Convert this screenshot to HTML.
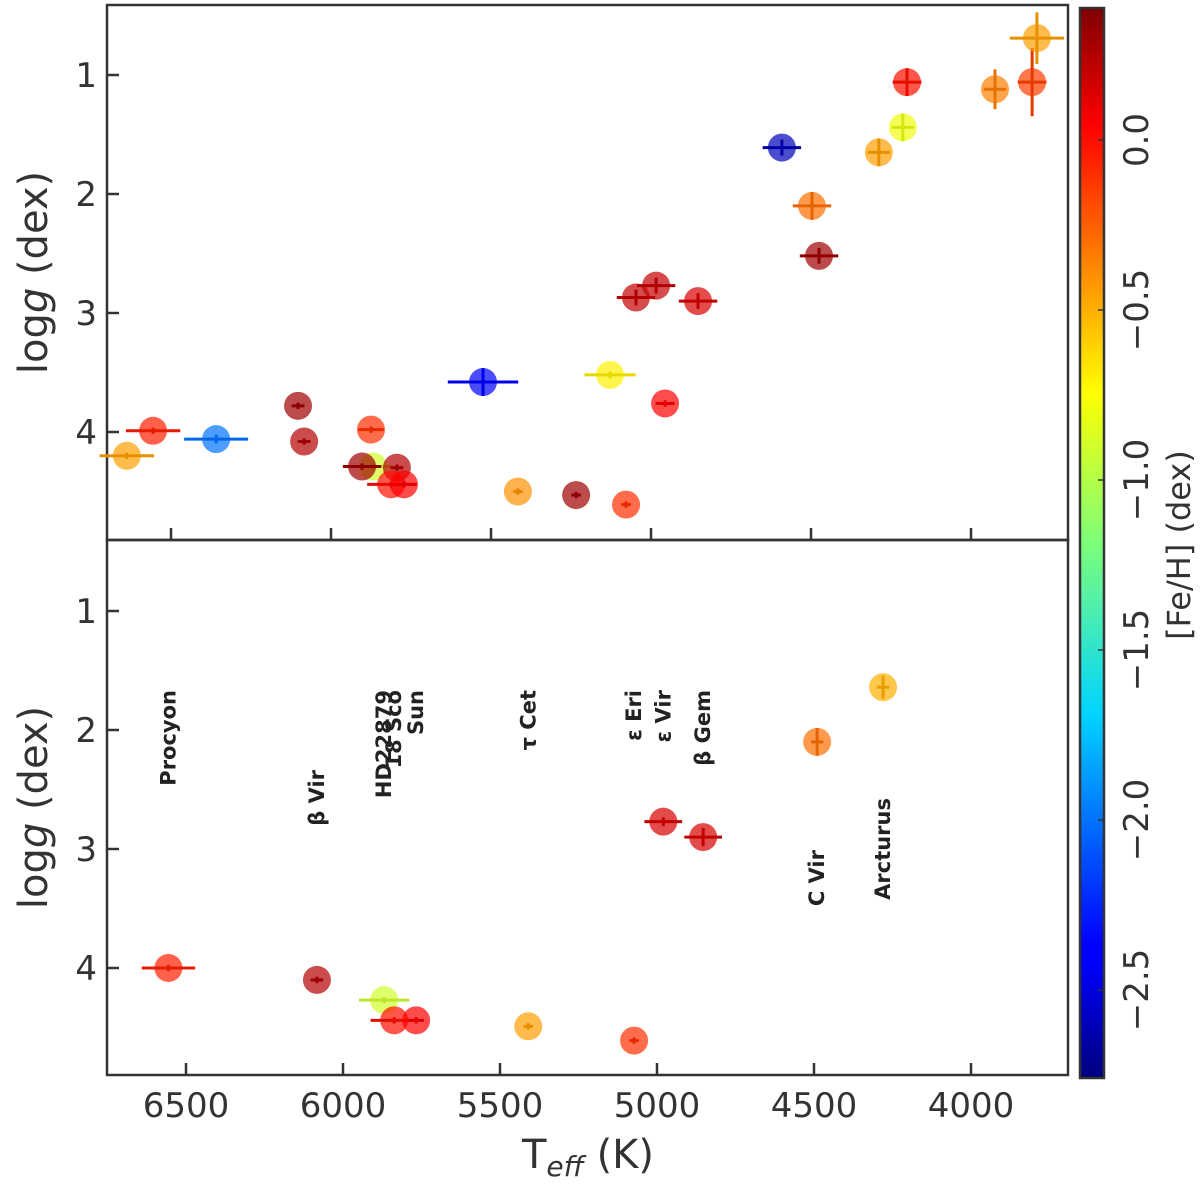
<!DOCTYPE html>
<html><head><meta charset="utf-8"><style>
body{margin:0;background:#fff}
svg{display:block;font-family:"DejaVu Sans","Liberation Sans",sans-serif}
</style></head><body>
<svg id="c" width="1200" height="1185" viewBox="0 0 1200 1185">
<defs>
<linearGradient id="jet" x1="0" y1="1" x2="0" y2="0">
<stop offset="0" stop-color="#00007f"/><stop offset="0.11" stop-color="#0000ff"/><stop offset="0.125" stop-color="#0000ff"/>
<stop offset="0.34" stop-color="#00d4ff"/><stop offset="0.5" stop-color="#7dff7a"/><stop offset="0.64" stop-color="#ffff00"/>
<stop offset="0.89" stop-color="#ff0000"/><stop offset="1" stop-color="#7f0000"/>
</linearGradient>
</defs>
<g id="top"></g>
<g id="bot"></g>
<g id="cb"></g>
</svg>
<script>
const NS="http://www.w3.org/2000/svg";
// top panel data
const topTeff=[6638,6556,6359,6103,6084,5875,5869,5903,5794,5812,5772,5525,5416,5234,5078,5128,5047,4984,4853,4956,4591,4497,4475,4200,4288,4213,3925,3809,3794];
const topLogg=[4.20,3.99,4.06,3.78,4.08,3.98,4.29,4.29,4.30,4.44,4.44,3.58,4.50,4.53,4.61,3.52,2.87,2.77,2.90,3.76,1.61,2.10,2.52,1.06,1.65,1.44,1.12,1.06,0.69];
const topFeH=[-0.45,-0.05,-2.0,0.3,0.25,-0.1,-0.9,0.3,0.25,0.0,0.05,-2.4,-0.4,0.3,-0.1,-0.7,0.2,0.2,0.15,0.05,-2.6,-0.3,0.3,0.0,-0.45,-0.8,-0.35,-0.15,-0.45];
const topTerr=[85,85,100,20,20,40,60,60,20,75,40,110,15,15,15,80,60,60,60,30,60,60,60,45,35,35,35,45,85];
const topGerr=[0.01,0.01,0.02,0.01,0.01,0.01,0.01,0.01,0.01,0.01,0.01,0.1,0.01,0.01,0.01,0.01,0.05,0.05,0.05,0.01,0.05,0.1,0.05,0.1,0.1,0.1,0.15,0.27,0.2];
// bottom panel data
const botNames=["Procyon","β Vir","HD22879","18 Sco","Sun","τ Cet","ε Eri","ε Vir","β Gem","C Vir","Arcturus"];
const botTeff=[6556,6083,5869,5837,5767,5410,5073,4980,4853,4490,4280];
const botLogg=[4.00,4.10,4.27,4.44,4.44,4.49,4.61,2.77,2.90,2.10,1.64];
const botFeH=[-0.05,0.25,-0.9,0.0,0.05,-0.45,-0.1,0.15,0.15,-0.3,-0.5];
const botTerr=[85,20,80,75,25,15,15,60,60,20,20];
const botGerr=[0.01,0.01,0.01,0.01,0.01,0.01,0.01,0.02,0.06,0.1,0.08];
const labelTop=[690,770,690,690,690,690,690,690,690,850,798];
const xTicks=[6500,6000,5500,5000,4500,4000];
const yTicks=[1,2,3,4];
const cbTicks=[0.0,-0.5,-1.0,-1.5,-2.0,-2.5];

function el(t,a,p){const e=document.createElementNS(NS,t);for(const k in a)e.setAttribute(k,a[k]);p.appendChild(e);return e;}
const stops=[[0,[0,0,127]],[0.11,[0,0,255]],[0.125,[0,0,255]],[0.34,[0,212,255]],[0.5,[125,255,122]],[0.64,[255,255,0]],[0.89,[255,0,0]],[1,[127,0,0]]];
const FMIN=-2.76,FMAX=0.39;
function jet(f){let t=(f-FMIN)/(FMAX-FMIN);t=Math.max(0,Math.min(1,t));for(let i=1;i<stops.length;i++){if(t<=stops[i][0]){const a=stops[i-1],b=stops[i];const u=(t-a[0])/(b[0]-a[0]||1);const c=a[1].map((v,j)=>Math.round(v+(b[1][j]-v)*u));return c;}}return stops[stops.length-1][1];}
function rgb(c,k){return `rgb(${Math.round(c[0]*k)},${Math.round(c[1]*k)},${Math.round(c[2]*k)})`;}

const L=107,R=1068;
const panels=[{g:document.getElementById('top'),y0:5,y1:540,xs:T=>171+(6500-T)*0.32,ys:g=>75+(g-1)*119,showX:false},
{g:document.getElementById('bot'),y0:540,y1:1075,xs:T=>186+(6500-T)*0.314,ys:g=>611+(g-1)*119,showX:true}];

panels.forEach((P,pi)=>{
  const fr=el('rect',{x:L,y:P.y0,width:R-L,height:P.y1-P.y0,fill:'none',stroke:'#333','stroke-width':2.5},P.g);
  
  
  xTicks.forEach(t=>{const x=P.xs(t);el('line',{x1:x,x2:x,y1:P.y1,y2:P.y1-12,stroke:'#333','stroke-width':2.5},P.g);
    if(P.showX){const tx=el('text',{x:x,y:1117,'font-size':34,'text-anchor':'middle',fill:'#333'},P.g);tx.textContent=t;
      
      }});
  yTicks.forEach(t=>{const y=P.ys(t);el('line',{x1:L,x2:L+12,y1:y,y2:y,stroke:'#333','stroke-width':2.5},P.g);
    const tx=el('text',{x:97,y:y+12,'font-size':34,'text-anchor':'end',fill:'#333'},P.g);tx.textContent=t;
    
    });
  const yl=el('text',{transform:`translate(47,${(P.y0+P.y1)/2}) rotate(-90)`,'font-size':40,'text-anchor':'middle',fill:'#333'},P.g);
  yl.innerHTML='log<tspan font-style="italic">g</tspan> (dex)';
  
  
  const T=pi?botTeff:topTeff,G=pi?botLogg:topLogg,F=pi?botFeH:topFeH,TE=pi?botTerr:topTerr,GE=pi?botGerr:topGerr;
  T.forEach((t,i)=>{const x=P.xs(t),y=P.ys(G[i]);const c=jet(F[i]);const sx=pi?0.314:0.32;
    const g=el('g',{},P.g);
    
    
    el('circle',{cx:x,cy:y,r:14,fill:rgb(c,1),'fill-opacity':0.7},g);
    el('line',{x1:x-TE[i]*sx,x2:x+TE[i]*sx,y1:y,y2:y,stroke:rgb(c,0.9),'stroke-width':3},g);
    el('line',{x1:x,x2:x,y1:y-GE[i]*119-2,y2:y+GE[i]*119+2,stroke:rgb(c,0.9),'stroke-width':3},g);
  });
  if(pi){botNames.forEach((n,i)=>{const x=P.xs(botTeff[i]);
    const tx=el('text',{transform:`translate(${x+7},${labelTop[i]}) rotate(-90)`,'font-size':21,'font-weight':'bold','text-anchor':'end',fill:'#222'},P.g);
    tx.textContent=n;
    
    });}
});
const xl=el('text',{x:588,y:1168,'font-size':40,'text-anchor':'middle',fill:'#333'},document.getElementById('bot'));
xl.innerHTML='T<tspan font-size="28" font-style="italic" dy="8">eff</tspan><tspan dy="-8"> (K)</tspan>';



const cb=document.getElementById('cb');
const cy=f=>140-f*340;
el('rect',{x:1080,y:8,width:24,height:1070,fill:'url(#jet)',stroke:'#333','stroke-width':2.5},cb);
cbTicks.forEach(t=>{const y=cy(t);el('line',{x1:1104,x2:1098,y1:y,y2:y,stroke:'#333','stroke-width':1.5},cb);
  const tx=el('text',{transform:`translate(1148,${y}) rotate(-90)`,'font-size':34,'text-anchor':'middle',fill:'#333'},cb);
  tx.textContent=t===0?'0.0':'\u2212'+Math.abs(t).toFixed(1);
  
  });
const cl=el('text',{transform:'translate(1190,545) rotate(-90)','font-size':32,'text-anchor':'middle',fill:'#333'},cb);
cl.textContent='[Fe/H] (dex)';


</script>
</body></html>
